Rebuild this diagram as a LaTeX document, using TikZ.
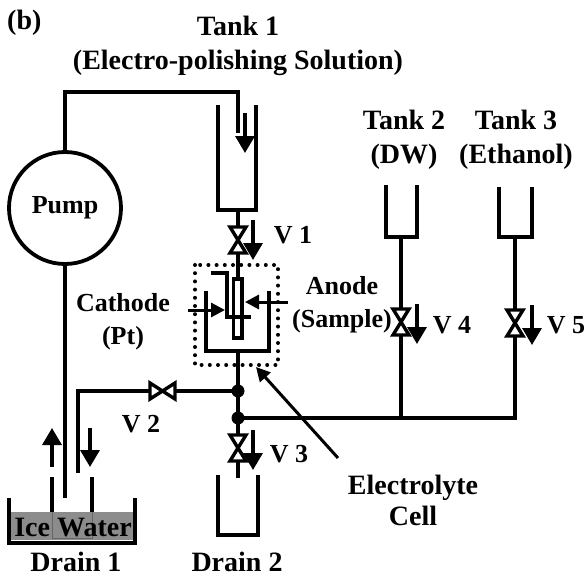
\documentclass[tikz,border=0pt]{standalone}
\usepackage{fontspec}
\setmainfont{Liberation Serif}
\usetikzlibrary{arrows.meta}
\tikzset{
 x=1pt,y=-1pt,
 pipe/.style={line width=3.8pt,line cap=butt},
 tank/.style={line width=3.8pt,line join=miter},
 flow/.style={line width=3.4pt,-{Triangle[length=17pt,width=19pt]}},
 thinflow/.style={line width=3pt,-{Triangle[length=14pt,width=14pt]}},
 lab/.style={font=\bfseries\fontsize{28}{34}\selectfont,align=center,inner sep=0pt},
 labs/.style={font=\bfseries\fontsize{26}{33}\selectfont,align=center,inner sep=0pt},
 labone/.style={font=\bfseries\fontsize{28}{34}\selectfont,inner sep=0pt,anchor=base},
 dot/.style={circle,fill=black,inner sep=0pt,minimum size=13pt},
 valve/.style={line width=3.4pt,line join=miter,fill=white},
}
\newcommand{\vvalve}[2]{\draw[valve] (#1-8,#2-13) -- (#1+8,#2-13) -- (#1-8,#2+13) -- (#1+8,#2+13) -- cycle;}
\begin{document}
\begin{tikzpicture}
\useasboundingbox (0,0) rectangle (587,578);
\fill[white] (0,0) rectangle (587,578);
% ice water
\fill[black!45] (11,512) rectangle (133,540);
\draw[line width=1pt,black!60] (52,512) -- (52,538) -- (92,538) -- (92,512);
\node[lab] (ice) at (73,528) {Ice Water};
% labels
\node[lab,anchor=west] (b) at (7,23) {(b)};
\node[lab] (t1) at (238,46) {Tank 1\\(Electro-polishing Solution)};
\node[lab] (t2) at (404,140) {Tank 2\\(DW)};
\node[lab] (t3) at (516,140) {Tank 3\\(Ethanol)};
\node[labs] (cath) at (123,322) {Cathode\\(Pt)};
\node[labs] (an) at (342,305) {Anode\\(Sample)};
\node[lab,font=\bfseries\fontsize{28}{31}\selectfont] (el) at (413,500) {Electrolyte\\Cell};
\node[labone] (d1) at (76,571) {Drain 1};
\node[labone] (d2) at (237,571) {Drain 2};
\node[labs] (v1) at (293,235) {V 1};
\node[labs] (v2) at (141,424) {V 2};
\node[labs] (v3) at (289,454) {V 3};
\node[labs] (v4) at (452,325) {V 4};
\node[labs] (v5) at (566,325) {V 5};
\node[labs] (pumplab) at (65,208) {Pump};
% pump
\node[circle,draw,line width=3.8pt,minimum size=112pt,inner sep=0pt] (pump) at (65,208) {};
\coordinate (j1) at (238,391);
\coordinate (j2) at (238,418);
% pipes
\draw[pipe] (pump.north) -- (65,92) -- (238,92) -- (238,133);
\draw[pipe] (pump.south) -- (65,498);
\draw[pipe] (238,210) -- (238,279);
\draw[pipe] (238,351) -- (238,478);
\draw[pipe] (238,391) -- (78,391) -- (78,473);
\draw[pipe] (238,418) -- (515,418) -- (515,237);
\draw[pipe] (401,418) -- (401,237);
% tanks
\draw[tank] (218,105) -- (218,210) -- (256,210) -- (256,105);
\draw[tank] (386,185) -- (386,237) -- (417,237) -- (417,185);
\draw[tank] (499,187) -- (499,237) -- (532,237) -- (532,187);
\draw[tank] (218,475) -- (218,535) -- (258,535) -- (258,475);
\draw[tank] (9,498) -- (9,543) -- (135,543) -- (135,498);
\draw[pipe,line width=3.2pt] (52,477) -- (52,512);
\draw[pipe,line width=3.2pt] (92,477) -- (92,512);
% cell
\draw[tank] (206,291) -- (206,351) -- (269,351) -- (269,291);
\draw[tank] (233.5,279) rectangle (242,338);
\draw[tank] (211,273) -- (227,273) -- (227,317) -- (251,317);
\draw[line width=4pt,line cap=round,dash pattern=on 0pt off 8.2pt] (195,265) rectangle (278,365);
% valves
\vvalve{238}{240}
\vvalve{401}{322}
\vvalve{515}{323}
\vvalve{238}{448}
\draw[valve] (150,383) -- (150,399) -- (175,383) -- (175,399) -- cycle;
% junctions
\node[dot] (d1j) at (j1) {};
\node[dot] (d2j) at (j2) {};
% arrows
\draw[flow] (245,113) -- (245,153);
\draw[flow] (253,220) -- (253,260);
\draw[flow] (253,430) -- (253,470);
\draw[flow] (417,304) -- (417,344);
\draw[flow] (532,305) -- (532,345);
\draw[flow] (52,467) -- (52,428);
\draw[flow] (90,428) -- (90,467);
\draw[thinflow] (188,310) -- (225,310);
\draw[thinflow] (288,302) -- (245,302);
\draw[thinflow] (338,458) -- (256,367);
\end{tikzpicture}
\end{document}
